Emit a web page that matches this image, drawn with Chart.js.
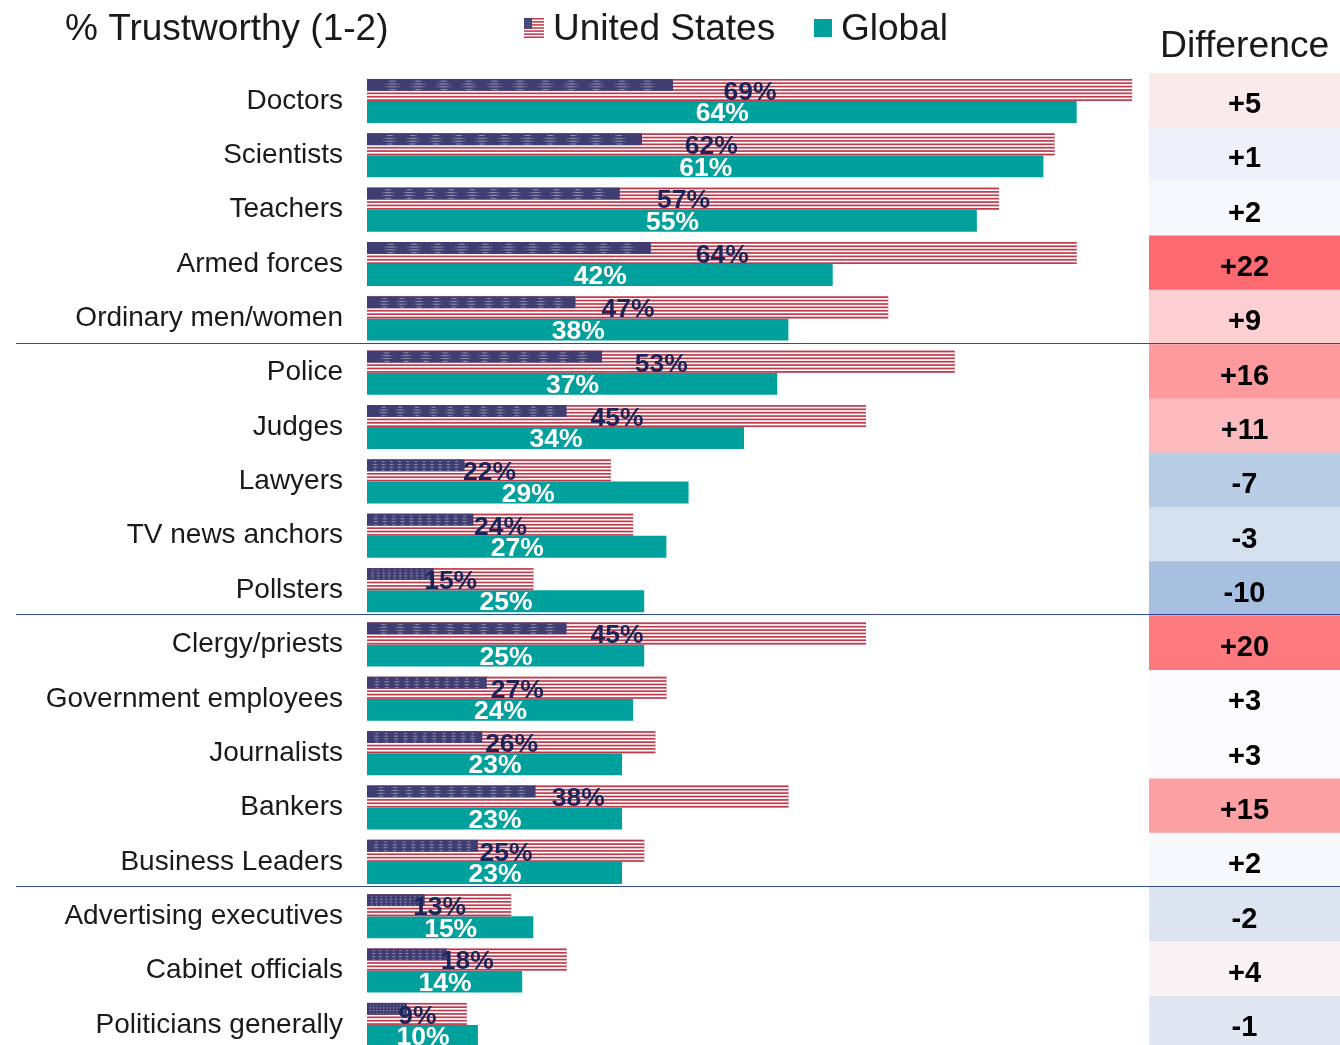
<!DOCTYPE html>
<html>
<head>
<meta charset="utf-8">
<style>
  html, body { margin: 0; padding: 0; background: #fff; width: 1340px; height: 1045px; overflow: hidden; }
  canvas { position: absolute; top: 0; }
</style>
<script src="https://cdn.jsdelivr.net/npm/chart.js@4"></script>
</head>
<body>
<canvas id="diffChart" width="191" height="1060" style="left:1149px"></canvas>
<canvas id="barsChart" width="1340" height="1060" style="left:0"></canvas>
<script>
const categories = ['Doctors', 'Scientists', 'Teachers', 'Armed forces', 'Ordinary men/women',
    'Police', 'Judges', 'Lawyers', 'TV news anchors', 'Pollsters',
    'Clergy/priests', 'Government employees', 'Journalists', 'Bankers', 'Business Leaders',
    'Advertising executives', 'Cabinet officials', 'Politicians generally'];
const usValues = [69, 62, 57, 64, 47, 53, 45, 22, 24, 15, 45, 27, 26, 38, 25, 13, 18, 9];
const globalValues = [64, 61, 55, 42, 38, 37, 34, 29, 27, 25, 25, 24, 23, 23, 23, 15, 14, 10];
const differences = [5, 1, 2, 22, 9, 16, 11, -7, -3, -10, 20, 3, 3, 15, 2, -2, 4, -1];
const diffColors = ['#fbeaec', '#eef1fa', '#f7f8fc', '#fc6a6f', '#fccfd2', '#fd9a9d', '#fcbcbf', '#b9cde6', '#d5e0ef',
    '#a8c0e0', '#fd7a7e', '#fbfbfe', '#fbfbfe', '#fba0a3', '#f7f8fc', '#dde5f2', '#faf3f5', '#e1e6f3'];
const groupEnds = [4, 9, 14]; // a rule is drawn under these rows

const FONT = '"Liberation Sans", Arial, sans-serif';
const TEAL = '#00a09c';

function drawFlag(ctx, x, y, w, h) {
    ctx.save();
    ctx.fillStyle = '#ffffff';
    ctx.fillRect(x, y, w, h);
    ctx.fillStyle = '#c03a4e';
    const stripe = h / 13;
    for (let i = 0; i < 13; i += 2) {
        ctx.fillRect(x, y + i * stripe, w, stripe);
    }
    const cw = w * 0.4;
    const ch = stripe * 7;
    ctx.fillStyle = '#3f3d72';
    ctx.fillRect(x, y, cw, ch);
    // stars squeezed with the flag, so they smear into small soft dashes
    const step = cw / 12;
    const rowWidths = [0.35, 0.6, 0.6, 0.35];
    for (let c = 1; c <= 11; c++) {
        rowWidths.forEach((rw, r) => {
            const cx = x + c * step;
            const py = y + (r + 0.6) * ch / 4.2;
            ctx.fillStyle = 'rgba(255,255,255,0.22)';
            ctx.fillRect(cx - step * rw / 2, py, step * rw, 1);
            ctx.fillStyle = 'rgba(255,255,255,0.3)';
            ctx.fillRect(cx - step * rw / 4, py, step * rw / 2, 1);
        });
    }
    ctx.restore();
}

const barDecor = {
    id: 'barDecor',
    afterDatasetsDraw(chart) {
        const ctx = chart.ctx;
        const us = chart.getDatasetMeta(0).data;
        const glob = chart.getDatasetMeta(1).data;

        us.forEach((bar) => {
            drawFlag(ctx, bar.base, bar.y - bar.height / 2, bar.x - bar.base, bar.height);
        });

        ctx.save();
        ctx.font = 'bold 26.5px ' + FONT;
        ctx.textAlign = 'center';
        ctx.textBaseline = 'middle';
        ctx.fillStyle = '#1c2559';
        us.forEach((bar, i) => {
            ctx.fillText(usValues[i] + '%', (bar.base + bar.x) / 2 + 0.5, bar.y + 2.5);
        });
        ctx.fillStyle = '#ffffff';
        glob.forEach((bar, i) => {
            ctx.fillText(globalValues[i] + '%', (bar.base + bar.x) / 2 + 0.5, bar.y + 2);
        });
        ctx.restore();
    },
    afterDraw(chart) {
        const ctx = chart.ctx;
        ctx.save();
        ctx.fillStyle = '#1a1a1a';
        ctx.textBaseline = 'middle';
        ctx.font = '37px ' + FONT;
        ctx.fillText('% Trustworthy (1-2)', 65, 30);
        ctx.fillText('United States', 553, 30);
        ctx.fillText('Global', 841, 30);
        ctx.font = '37.3px ' + FONT;
        ctx.fillText('Difference', 1160, 47);
        drawFlag(ctx, 524, 18, 20, 20);
        ctx.fillStyle = TEAL;
        ctx.fillRect(814, 19, 18, 18);

        // separators between the four groups of rows
        const y = chart.scales.y;
        ctx.strokeStyle = '#2f4a9c';
        ctx.lineWidth = 1;
        groupEnds.forEach((row) => {
            const py = Math.round((y.getPixelForValue(row) + y.getPixelForValue(row + 1)) / 2) - 2.5;
            ctx.beginPath();
            ctx.moveTo(16, py);
            ctx.lineTo(chart.width, py);
            ctx.stroke();
        });
        ctx.restore();
    }
};

const diffLabels = {
    id: 'diffLabels',
    afterDatasetsDraw(chart) {
        const ctx = chart.ctx;
        ctx.save();
        ctx.font = 'bold 29px ' + FONT;
        ctx.fillStyle = '#000000';
        ctx.textAlign = 'center';
        ctx.textBaseline = 'middle';
        chart.getDatasetMeta(0).data.forEach((bar, i) => {
            const d = differences[i];
            ctx.fillText((d > 0 ? '+' : '') + d, chart.width / 2, bar.y + 5);
        });
        ctx.restore();
    }
};

new Chart(document.getElementById('diffChart'), {
    type: 'bar',
    data: {
        labels: categories,
        datasets: [{ label: 'Difference', data: differences.map(() => 1), backgroundColor: diffColors }]
    },
    options: {
        indexAxis: 'y',
        responsive: false,
        animation: false,
        layout: { padding: { top: 73, bottom: 9.6 } },
        categoryPercentage: 1,
        barPercentage: 1,
        plugins: {
            legend: { display: false },
            tooltip: { enabled: false }
        },
        scales: {
            x: { display: false, min: 0, max: 1 },
            y: { display: false }
        }
    },
    plugins: [diffLabels]
});

new Chart(document.getElementById('barsChart'), {
    type: 'bar',
    data: {
        labels: categories,
        datasets: [
            { label: 'United States', data: usValues, backgroundColor: '#c03a4e' },
            { label: 'Global', data: globalValues, backgroundColor: TEAL }
        ]
    },
    options: {
        indexAxis: 'y',
        responsive: false,
        animation: false,
        layout: { padding: { top: 73.8, bottom: 7.9 } },
        categoryPercentage: 0.81,
        barPercentage: 1,
        plugins: {
            legend: { display: false },
            tooltip: { enabled: false }
        },
        scales: {
            x: { display: false, min: 0, max: 87.75 },
            y: {
                grid: { display: false },
                border: { display: false },
                afterFit(scale) {
                    scale.width = 367;
                    scale.paddingTop = 0;
                    scale.paddingBottom = 0;
                },
                ticks: {
                    autoSkip: false,
                    padding: 16,
                    color: '#1a1a1a',
                    font: { family: FONT, size: 28 }
                }
            }
        }
    },
    plugins: [barDecor]
});
</script>
</body>
</html>
